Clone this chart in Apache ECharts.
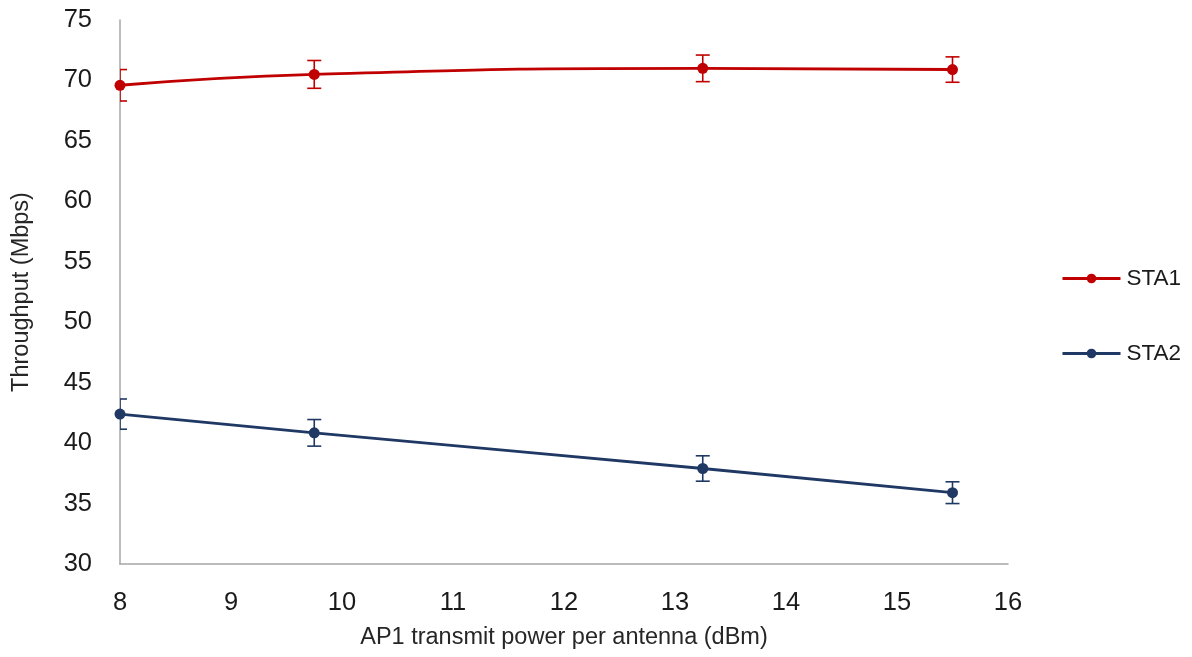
<!DOCTYPE html>
<html>
<head>
<meta charset="utf-8">
<script src="https://cdn.jsdelivr.net/npm/echarts@6/dist/echarts.min.js"></script>
<style>
html,body{margin:0;padding:0;background:#fff;}
#chart{width:1192px;height:657px;}
</style>
</head>
<body>
<div id="chart"></div>
<script>
// Data
const xValues = [8, 9.75, 13.25, 15.5];
const sta1 = [69.6, 70.5, 71.0, 70.9];
const sta1Err = [1.3, 1.15, 1.1, 1.05];
const sta2 = [42.4, 40.85, 37.9, 35.9];
const sta2Err = [1.25, 1.1, 1.05, 0.9];
const seriesNames = ['STA1', 'STA2'];
const xAxisTitle = 'AP1 transmit power per antenna (dBm)';
const yAxisTitle = 'Throughput (Mbps)';

const RED = '#c00000';
const BLUE = '#1f3864';

function pts(vals) { return xValues.map((x, i) => [x, vals[i]]); }
function errData(vals, errs) { return xValues.map((x, i) => [x, vals[i] - errs[i], vals[i] + errs[i]]); }

function errRender(color) {
  return function (params, api) {
    const x = api.value(0);
    const lo = api.coord([x, api.value(1)]);
    const hi = api.coord([x, api.value(2)]);
    const hw = 7;
    const style = { stroke: color, lineWidth: 1.6, fill: null };
    return {
      type: 'group',
      children: [
        { type: 'line', shape: { x1: lo[0], y1: lo[1], x2: hi[0], y2: hi[1] }, style: style },
        { type: 'line', shape: { x1: lo[0] - hw, y1: lo[1], x2: lo[0] + hw, y2: lo[1] }, style: style },
        { type: 'line', shape: { x1: hi[0] - hw, y1: hi[1], x2: hi[0] + hw, y2: hi[1] }, style: style }
      ]
    };
  };
}

const chart = echarts.init(document.getElementById('chart'));
chart.setOption({
  animation: false,
  backgroundColor: '#ffffff',
  grid: { left: 120, right: 184, top: 20, bottom: 93, containLabel: false },
  legend: {
    orient: 'vertical',
    left: 1061,
    top: 267,
    padding: 0,
    itemWidth: 58,
    itemHeight: 12,
    itemGap: 52,
    data: seriesNames,
    lineStyle: { width: 3 },
    textStyle: { fontFamily: 'Liberation Sans', fontSize: 22.5, color: '#1a1a1a', padding: [0, 0, 0, 1] }
  },
  xAxis: {
    type: 'value',
    min: 8, max: 16, interval: 1,
    name: xAxisTitle,
    nameLocation: 'middle',
    nameGap: 62,
    nameTextStyle: { fontFamily: 'Liberation Sans', fontSize: 23.5, color: '#262626' },
    axisLine: { show: true, onZero: false, lineStyle: { color: '#a6a6a6', width: 1.5 } },
    axisTick: { show: false },
    splitLine: { show: false },
    axisLabel: { margin: 26, fontFamily: 'Liberation Sans', fontSize: 25.5, color: '#1a1a1a' }
  },
  yAxis: {
    type: 'value',
    min: 30, max: 75, interval: 5,
    name: yAxisTitle,
    nameLocation: 'middle',
    nameGap: 86,
    nameTextStyle: { fontFamily: 'Liberation Sans', fontSize: 23.5, color: '#262626' },
    axisLine: { show: true, lineStyle: { color: '#a6a6a6', width: 1.5 } },
    axisTick: { show: false },
    splitLine: { show: false },
    axisLabel: { margin: 28, fontFamily: 'Liberation Sans', fontSize: 25.5, color: '#1a1a1a' }
  },
  series: [
    {
      name: 'STA1', type: 'line', data: pts(sta1), smooth: 0.5,
      symbol: 'circle', symbolSize: 11,
      lineStyle: { color: RED, width: 2.9 }, itemStyle: { color: RED }, z: 3
    },
    {
      name: 'STA2', type: 'line', data: pts(sta2), smooth: 0.5,
      symbol: 'circle', symbolSize: 11,
      lineStyle: { color: BLUE, width: 2.9 }, itemStyle: { color: BLUE }, z: 3
    },
    {
      name: 'STA1 error', type: 'custom', data: errData(sta1, sta1Err),
      renderItem: errRender(RED), clip: true, z: 2, silent: true,
      encode: { x: 0, y: [1, 2] }
    },
    {
      name: 'STA2 error', type: 'custom', data: errData(sta2, sta2Err),
      renderItem: errRender(BLUE), clip: true, z: 2, silent: true,
      encode: { x: 0, y: [1, 2] }
    }
  ]
});
</script>
</body>
</html>
